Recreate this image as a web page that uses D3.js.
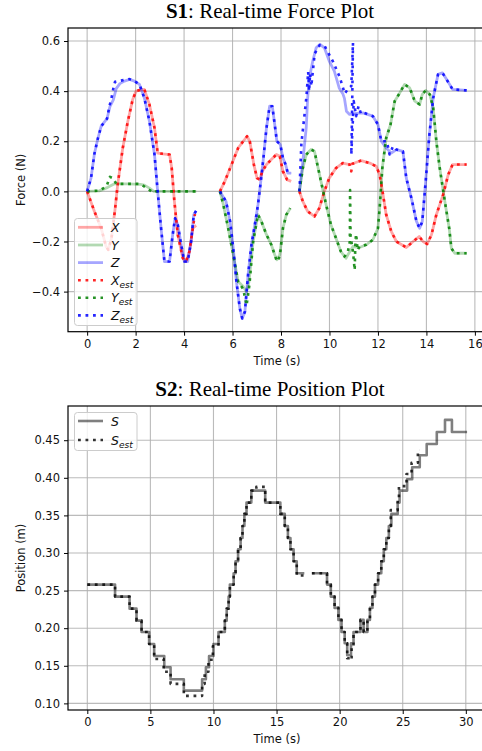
<!DOCTYPE html>
<html>
<head>
<meta charset="utf-8">
<script src="https://cdn.jsdelivr.net/npm/d3@7"></script>
<style>
  body { margin: 0; background: #fff; }
  svg { display: block; }
</style>
</head>
<body>
<svg id="chart"></svg>
<script>
// ---- S1 force data: [time, force], null breaks the line ----
const xForce = [
  [0,0],[0.3,-0.08],[0.58,-0.147],[0.78,-0.22],[0.87,-0.233],[1.0,-0.19],[1.15,-0.073],[1.26,0.027],[1.47,0.173],[1.68,0.28],[1.88,0.367],[2.02,0.4],[2.2,0.405],[2.36,0.407],[2.57,0.347],[2.78,0.253],[2.91,0.153],[3.12,0.15],[3.4,0.147],[3.49,0.093],[3.6,-0.04],[3.74,-0.173],[3.95,-0.267],[4.08,-0.28],[4.22,-0.24],[4.36,-0.147],[4.5,-0.136],
  null,
  [5.48,0],[5.68,0.04],[5.96,0.107],[6.23,0.173],[6.44,0.2],[6.6,0.22],[6.71,0.2],[6.88,0.107],[7.01,0.053],[7.12,0.047],[7.23,0.08],[7.4,0.107],[7.6,0.127],[7.81,0.147],[7.95,0.14],[8.08,0.08],[8.25,0.047],[8.42,0.04],
  null,
  [8.76,0],[8.9,-0.04],[9.1,-0.08],[9.38,-0.1],[9.58,-0.067],[9.79,0],[9.99,0.053],[10.27,0.093],[10.55,0.113],[10.83,0.107],[11.03,0.113],[11.31,0.123],[11.66,0.113],[11.93,0.1],[12.07,0.067],[12.21,-0.013],[12.34,-0.093],[12.55,-0.16],[12.76,-0.2],[13.17,-0.224],[13.45,-0.2],[13.7,-0.18],[13.86,-0.2],[14.03,-0.21],[14.21,-0.173],[14.41,-0.093],[14.69,-0.013],[14.9,0.067],[15.08,0.107],[15.66,0.107]
];
const yForce = [
  [0,0],[0.5,0.002],[0.85,0.016],[1.13,0.03],[1.68,0.03],[2.2,0.028],[2.36,0.025],[2.57,0.013],[2.75,0],[4.5,0],
  null,
  [5.48,0],[5.62,-0.053],[5.82,-0.147],[6.03,-0.253],[6.23,-0.36],[6.44,-0.38],[6.57,-0.4],[6.68,-0.36],[6.85,-0.2],[7.05,-0.093],[7.19,-0.12],[7.4,-0.173],[7.6,-0.213],[7.74,-0.253],[7.83,-0.273],[7.95,-0.253],[8.08,-0.147],[8.22,-0.093],[8.38,-0.067],
  null,
  [8.76,0],[8.9,0.093],[9.04,0.147],[9.24,0.167],[9.38,0.16],[9.47,0.12],[9.65,0.04],[9.86,-0.053],[10.06,-0.133],[10.27,-0.187],[10.47,-0.24],[10.68,-0.267],[10.76,-0.253],[10.97,-0.22],[11.24,-0.224],[11.52,-0.213],[11.79,-0.193],[12.0,-0.147],[12.07,-0.067],[12.18,0.093],[12.34,0.213],[12.52,0.267],[12.69,0.36],[12.9,0.393],[13.1,0.427],[13.31,0.413],[13.52,0.36],[13.72,0.347],[13.83,0.387],[13.97,0.403],[14.14,0.387],[14.28,0.333],[14.41,0.2],[14.55,0.093],[14.76,-0.04],[14.94,-0.147],[15.03,-0.227],[15.17,-0.247],[15.66,-0.247]
];
const zForce = [
  [0,0],[0.16,0.053],[0.3,0.15],[0.44,0.21],[0.58,0.26],[0.82,0.29],[0.94,0.338],[1.08,0.365],[1.2,0.41],[1.35,0.43],[1.54,0.44],[1.75,0.447],[1.95,0.44],[2.16,0.427],[2.36,0.373],[2.57,0.28],[2.78,0.147],[2.91,0],[3.05,-0.147],[3.19,-0.28],[3.4,-0.28],[3.53,-0.173],[3.63,-0.107],[3.74,-0.133],[3.88,-0.213],[4.01,-0.28],[4.15,-0.28],[4.29,-0.2],[4.4,-0.093],[4.5,-0.077],
  null,
  [5.48,0],[5.73,-0.04],[5.9,-0.12],[6.03,-0.227],[6.16,-0.36],[6.3,-0.467],[6.4,-0.507],[6.51,-0.48],[6.64,-0.333],[6.78,-0.213],[6.92,-0.133],[7.05,-0.053],[7.15,0.027],[7.26,0.12],[7.4,0.253],[7.53,0.34],[7.64,0.34],[7.74,0.267],[7.83,0.2],[7.97,0.187],[8.08,0.133],[8.19,0.107],[8.28,0.073],[8.42,0.073],
  null,
  [8.76,0],[8.9,0.12],[9.04,0.253],[9.1,0.373],[9.17,0.453],[9.31,0.52],[9.45,0.573],[9.61,0.587],[9.79,0.573],[9.99,0.52],[10.2,0.48],[10.4,0.413],[10.55,0.39],[10.62,0.37],[10.7,0.32],[10.83,0.307],[11.0,0.31],[11.38,0.313],[11.79,0.3],[12.0,0.267],[12.14,0.2],[12.34,0.173],[12.55,0.153],[12.76,0.167],[13.03,0.16],[13.17,0.053],[13.38,-0.027],[13.59,-0.12],[13.72,-0.147],[13.83,-0.12],[13.97,0.04],[14.11,0.213],[14.28,0.373],[14.48,0.467],[14.66,0.473],[14.83,0.447],[15.08,0.407],[15.66,0.403]
];
const xEst = [
  [0,0],[0.3,-0.08],[0.58,-0.147],[0.78,-0.22],[0.87,-0.233],[1.0,-0.19],[1.15,-0.073],[1.26,0.027],[1.47,0.173],[1.68,0.28],[1.88,0.367],[2.02,0.4],[2.2,0.405],[2.36,0.407],[2.57,0.347],[2.78,0.253],[2.91,0.153],[3.12,0.15],[3.4,0.147],[3.49,0.093],[3.6,-0.04],[3.74,-0.173],[3.95,-0.267],[4.08,-0.28],[4.22,-0.24],[4.36,-0.147],[4.45,-0.09],
  null,
  [5.48,0],[5.68,0.04],[5.96,0.107],[6.23,0.173],[6.44,0.2],[6.6,0.22],[6.71,0.2],[6.88,0.107],[7.01,0.053],[7.12,0.047],[7.23,0.08],[7.4,0.107],[7.6,0.127],[7.81,0.147],[7.95,0.14],[8.08,0.08],[8.25,0.047],[8.42,0.04],
  null,
  [8.76,0],[8.9,-0.04],[9.1,-0.08],[9.38,-0.1],[9.58,-0.067],[9.79,0],[9.99,0.053],[10.27,0.093],[10.55,0.113],[10.83,0.107],[10.9,0.08],[10.95,0.11],[11.03,0.113],[11.31,0.123],[11.66,0.113],[11.93,0.1],[12.07,0.067],[12.21,-0.013],[12.34,-0.093],[12.55,-0.16],[12.76,-0.2],[13.17,-0.224],[13.45,-0.2],[13.7,-0.18],[13.86,-0.2],[14.03,-0.21],[14.21,-0.173],[14.41,-0.093],[14.69,-0.013],[14.9,0.067],[15.08,0.107],[15.66,0.107]
];
const yEst = [
  [0,0],[0.5,0.003],[0.8,0.02],[0.94,0.058],[1.08,0.052],[1.2,0.03],[1.68,0.03],[2.2,0.03],[2.5,0.01],[2.73,-0.005],[2.85,0],[4.5,0],
  null,
  [5.48,0],[5.62,-0.053],[5.82,-0.147],[6.03,-0.253],[6.23,-0.36],[6.44,-0.39],[6.58,-0.455],[6.7,-0.37],[6.85,-0.2],[7.05,-0.093],[7.19,-0.12],[7.4,-0.173],[7.6,-0.213],[7.74,-0.253],[7.83,-0.28],[7.95,-0.26],[8.08,-0.147],[8.22,-0.093],[8.38,-0.067],
  null,
  [8.76,0],[8.9,0.093],[9.04,0.147],[9.24,0.167],[9.38,0.16],[9.47,0.12],[9.65,0.04],[9.86,-0.053],[10.06,-0.133],[10.27,-0.187],[10.47,-0.24],[10.62,-0.26],[10.75,-0.245],[10.84,-0.2],[10.85,0.005],[10.87,-0.18],[10.97,-0.24],[11.04,-0.314],[11.07,-0.2],[11.1,-0.17],[11.16,-0.235],[11.24,-0.22],[11.52,-0.213],[11.79,-0.193],[12.0,-0.147],[12.07,-0.067],[12.18,0.093],[12.34,0.213],[12.52,0.267],[12.69,0.36],[12.9,0.393],[13.1,0.427],[13.31,0.413],[13.52,0.36],[13.72,0.347],[13.83,0.387],[13.97,0.403],[14.14,0.387],[14.28,0.333],[14.41,0.2],[14.55,0.093],[14.76,-0.04],[14.94,-0.147],[15.03,-0.227],[15.17,-0.247],[15.66,-0.247]
];
const zEst = [
  [0,0],[0.16,0.053],[0.3,0.15],[0.44,0.21],[0.58,0.26],[0.82,0.29],[0.92,0.34],[1.0,0.37],[1.1,0.42],[1.15,0.437],[1.3,0.44],[1.54,0.445],[1.75,0.448],[1.95,0.44],[2.16,0.427],[2.36,0.373],[2.57,0.28],[2.78,0.147],[2.91,0],[3.05,-0.147],[3.19,-0.28],[3.4,-0.28],[3.53,-0.173],[3.63,-0.107],[3.74,-0.133],[3.88,-0.213],[4.01,-0.28],[4.15,-0.28],[4.29,-0.2],[4.4,-0.093],[4.5,-0.077],
  null,
  [5.48,0],[5.73,-0.04],[5.9,-0.12],[6.03,-0.227],[6.16,-0.36],[6.3,-0.467],[6.4,-0.507],[6.51,-0.48],[6.64,-0.333],[6.78,-0.213],[6.92,-0.133],[7.05,-0.053],[7.15,0.027],[7.26,0.12],[7.4,0.253],[7.53,0.34],[7.64,0.34],[7.74,0.267],[7.83,0.2],[7.97,0.187],[8.08,0.133],[8.19,0.107],[8.28,0.073],[8.42,0.073],
  null,
  [8.76,0],[8.84,0.19],[9.05,0.378],[9.12,0.477],[9.16,0.4],[9.2,0.47],[9.25,0.42],[9.39,0.55],[9.6,0.584],[9.8,0.58],[10.15,0.517],[10.42,0.457],[10.63,0.39],[10.77,0.41],[10.9,0.42],[10.97,0.593],[10.93,0.3],[10.9,0.147],[10.95,0.25],[11.0,0.36],[11.1,0.3],[11.2,0.34],[11.3,0.31],[11.38,0.315],[11.79,0.3],[12.0,0.267],[12.14,0.2],[12.37,0.2],[12.48,0.147],[12.62,0.18],[12.76,0.167],[13.03,0.16],[13.17,0.053],[13.38,-0.027],[13.59,-0.12],[13.72,-0.147],[13.83,-0.12],[13.97,0.04],[14.11,0.213],[14.28,0.373],[14.48,0.467],[14.66,0.473],[14.83,0.447],[15.08,0.407],[15.66,0.403]
];

// ---- S2 position data: [time, position], drawn as steps ----
const sPos = [
  [0,0.258],[2.2,0.242],[3.35,0.226],[3.9,0.210],[4.3,0.195],[4.9,0.179],[5.3,0.163],[6.1,0.148],[6.6,0.132],[7.65,0.117],[9.1,0.132],[9.4,0.148],[9.65,0.163],[10.0,0.179],[10.4,0.195],[10.9,0.210],[11.05,0.226],[11.2,0.242],[11.3,0.258],[11.6,0.273],[11.75,0.289],[11.95,0.305],[12.15,0.320],[12.3,0.336],[12.45,0.352],[12.62,0.367],[13.0,0.383],[14.1,0.367],[15.3,0.352],[15.65,0.336],[15.9,0.320],[16.1,0.305],[16.35,0.289],[16.6,0.273],[17.2,0.273],
  null,
  [17.8,0.273],[19.0,0.258],[19.3,0.242],[19.6,0.227],[19.9,0.211],[20.15,0.195],[20.4,0.180],[20.6,0.164],[20.9,0.180],[21.1,0.195],[21.65,0.211],[21.9,0.195],[22.2,0.211],[22.4,0.227],[22.6,0.242],[22.8,0.258],[23.05,0.273],[23.3,0.289],[23.5,0.305],[23.7,0.320],[23.9,0.336],[24.1,0.352],[24.6,0.367],[24.75,0.383],[25.35,0.398],[25.75,0.414],[26.35,0.430],[26.9,0.445],[27.7,0.461],[28.35,0.477],[28.9,0.461],[30.1,0.461]
];
const sEst = [
  [0,0.258],[2.2,0.242],[3.35,0.226],[3.9,0.210],[4.3,0.195],[4.9,0.179],[5.3,0.159],[6.05,0.142],[6.6,0.126],[7.65,0.110],[9.1,0.126],[9.3,0.142],[9.6,0.158],[9.95,0.176],[10.4,0.195],[10.9,0.210],[11.05,0.226],[11.2,0.242],[11.3,0.258],[11.6,0.273],[11.75,0.289],[11.95,0.305],[12.15,0.320],[12.3,0.336],[12.45,0.352],[12.62,0.367],[13.0,0.383],[13.4,0.388],[14.1,0.367],[15.3,0.352],[15.65,0.336],[15.9,0.320],[16.1,0.305],[16.35,0.289],[16.6,0.270],[17.2,0.273],
  null,
  [17.8,0.273],[19.0,0.258],[19.3,0.242],[19.6,0.227],[19.9,0.211],[20.15,0.195],[20.4,0.180],[20.6,0.160],[20.8,0.158],[20.95,0.176],[21.1,0.195],[21.65,0.211],[21.9,0.195],[22.2,0.211],[22.4,0.227],[22.6,0.242],[22.8,0.258],[23.05,0.273],[23.3,0.289],[23.5,0.305],[23.7,0.320],[23.9,0.336],[24.05,0.357],[24.6,0.372],[24.7,0.389],[25.3,0.405],[25.7,0.420],[26.2,0.437],[26.3,0.437]
];

// ---- tick values ----
const forceTimeTicks = [0, 2, 4, 6, 8, 10, 12, 14, 16];
const forceTicks = [-0.4, -0.2, 0.0, 0.2, 0.4, 0.6];
const posTimeTicks = [0, 5, 10, 15, 20, 25, 30];
const posTicks = [0.10, 0.15, 0.20, 0.25, 0.30, 0.35, 0.40, 0.45];

const W = 482, H = 751;
const svg = d3.select("#chart").attr("width", W).attr("height", H);

const tickFont = "DejaVu Sans, sans-serif";
const fmtMinus = f => s => f(s).replace("-", "\u2212");

function drawPanel(cfg) {
  const x = d3.scaleLinear().domain(cfg.xDomain).range([cfg.left, cfg.right]);
  const y = d3.scaleLinear().domain(cfg.yDomain).range([cfg.bottom, cfg.top]);

  const g = svg.append("g");

  // clip so the plot area ends at the spines
  const clipId = "clip" + cfg.id;
  svg.append("clipPath").attr("id", clipId)
    .append("rect")
    .attr("x", cfg.left).attr("y", cfg.top)
    .attr("width", cfg.right - cfg.left).attr("height", cfg.bottom - cfg.top);

  // grid
  g.selectAll(".vgrid").data(cfg.xTicks).join("line")
    .attr("x1", d => x(d)).attr("x2", d => x(d))
    .attr("y1", cfg.top).attr("y2", cfg.bottom)
    .attr("stroke", "#b0b0b0").attr("stroke-width", 1.1).attr("opacity", 0.85);
  g.selectAll(".hgrid").data(cfg.yTicks).join("line")
    .attr("x1", cfg.left).attr("x2", cfg.right)
    .attr("y1", d => y(d)).attr("y2", d => y(d))
    .attr("stroke", "#b0b0b0").attr("stroke-width", 1.1).attr("opacity", 0.85);

  // data lines
  const plot = g.append("g").attr("clip-path", `url(#${clipId})`);
  cfg.series.forEach(s => {
    const line = d3.line()
      .defined(d => d !== null)
      .x(d => x(d[0]))
      .y(d => y(d[1]))
      .curve(s.curve || d3.curveLinear);
    plot.append("path")
      .datum(s.data)
      .attr("d", line)
      .attr("fill", "none")
      .attr("stroke", s.color)
      .attr("stroke-opacity", s.opacity)
      .attr("stroke-width", s.width)
      .attr("stroke-dasharray", s.dash || null)
      .attr("stroke-linejoin", "round");
  });

  // axes
  const xAxis = d3.axisBottom(x).tickValues(cfg.xTicks).tickFormat(d3.format("d")).tickSize(4).tickPadding(4);
  const yAxis = d3.axisLeft(y).tickValues(cfg.yTicks).tickFormat(fmtMinus(d3.format(cfg.yFormat))).tickSize(4).tickPadding(4);

  const gx = g.append("g").attr("transform", `translate(0,${cfg.bottom})`).call(xAxis);
  const gy = g.append("g").attr("transform", `translate(${cfg.left},0)`).call(yAxis);
  [gx, gy].forEach(a => {
    a.select(".domain").remove();
    a.selectAll("line").attr("stroke", "#000").attr("stroke-width", 1);
    a.selectAll("text").attr("font-family", tickFont).attr("font-size", 11.5).attr("fill", "#111");
  });

  // spines
  g.append("rect")
    .attr("x", cfg.left).attr("y", cfg.top)
    .attr("width", cfg.right - cfg.left).attr("height", cfg.bottom - cfg.top)
    .attr("fill", "none").attr("stroke", "#000").attr("stroke-width", 1.2);

  // axis labels
  g.append("text")
    .attr("x", 277).attr("y", cfg.xLabelY)
    .attr("text-anchor", "middle")
    .attr("font-family", tickFont).attr("font-size", 11.5).attr("fill", "#111")
    .text("Time (s)");
  g.append("text")
    .attr("transform", `translate(${cfg.yLabelX},${(cfg.top + cfg.bottom) / 2}) rotate(-90)`)
    .attr("text-anchor", "middle")
    .attr("font-family", tickFont).attr("font-size", 11.5).attr("fill", "#111")
    .text(cfg.yLabel);

  // title
  const title = g.append("text")
    .attr("x", 270).attr("y", cfg.titleY)
    .attr("text-anchor", "middle")
    .attr("font-family", "Liberation Serif, Times New Roman, serif")
    .attr("font-size", 21).attr("fill", "#000");
  title.append("tspan").attr("font-weight", "bold").text(cfg.titleBold);
  title.append("tspan").text(cfg.titleRest);

  // legend
  const lg = g.append("g");
  lg.append("rect")
    .attr("x", cfg.legend.x).attr("y", cfg.legend.y)
    .attr("width", cfg.legend.w).attr("height", cfg.legend.h)
    .attr("rx", 3)
    .attr("fill", "#fff").attr("fill-opacity", 0.8)
    .attr("stroke", "#cccccc").attr("stroke-width", 1);
  cfg.series.forEach((s, i) => {
    const ry = cfg.legend.rows[i];
    lg.append("line")
      .attr("x1", 78).attr("x2", 103)
      .attr("y1", ry).attr("y2", ry)
      .attr("stroke", s.color)
      .attr("stroke-opacity", s.opacity)
      .attr("stroke-width", s.width)
      .attr("stroke-dasharray", s.dash || null);
    const t = lg.append("text")
      .attr("x", 111).attr("y", ry + 4.5)
      .attr("font-family", tickFont).attr("font-size", 12.5).attr("fill", "#111");
    t.append("tspan").attr("font-style", "italic").text(s.label);
    if (s.sub) {
      t.append("tspan").attr("font-style", "italic").attr("font-size", 9).attr("dy", 3).text(s.sub);
    }
  });
}

const dotDash = "2.8,4.7";

drawPanel({
  id: "force",
  left: 68, right: 487, top: 28, bottom: 331.7,
  xDomain: [-0.79, 16.5], yDomain: [-0.56, 0.652],
  xTicks: forceTimeTicks, yTicks: forceTicks, yFormat: ".1f",
  xLabelY: 365, yLabelX: 25, yLabel: "Force (N)",
  titleY: 18, titleBold: "S1", titleRest: ": Real-time Force Plot",
  legend: { x: 74.5, y: 218.5, w: 62.5, h: 107, rows: [227.3, 245, 262.6, 280.2, 297.8, 315.4] },
  series: [
    { data: xForce, color: "#ff0000", opacity: 0.35, width: 2.8, label: "X" },
    { data: yForce, color: "#008000", opacity: 0.3, width: 2.8, label: "Y" },
    { data: zForce, color: "#0000ff", opacity: 0.35, width: 2.8, label: "Z" },
    { data: xEst, color: "#ff0000", opacity: 0.85, width: 2.6, dash: dotDash, label: "X", sub: "est" },
    { data: yEst, color: "#008000", opacity: 0.85, width: 2.6, dash: dotDash, label: "Y", sub: "est" },
    { data: zEst, color: "#0000ff", opacity: 0.85, width: 2.6, dash: dotDash, label: "Z", sub: "est" }
  ]
});

drawPanel({
  id: "pos",
  left: 68, right: 486, top: 406, bottom: 710,
  xDomain: [-1.53, 31.6], yDomain: [0.0912, 0.4955],
  xTicks: posTimeTicks, yTicks: posTicks, yFormat: ".2f",
  xLabelY: 743, yLabelX: 25, yLabel: "Position (m)",
  titleY: 396, titleBold: "S2", titleRest: ": Real-time Position Plot",
  legend: { x: 74.5, y: 412.5, w: 62.5, h: 38, rows: [421, 440] },
  series: [
    { data: sPos, color: "#000", opacity: 0.5, width: 2.6, curve: d3.curveStepAfter, label: "S" },
    { data: sEst, color: "#000", opacity: 0.8, width: 2.6, dash: dotDash, curve: d3.curveStepAfter, label: "S", sub: "est" }
  ]
});
</script>
</body>
</html>
